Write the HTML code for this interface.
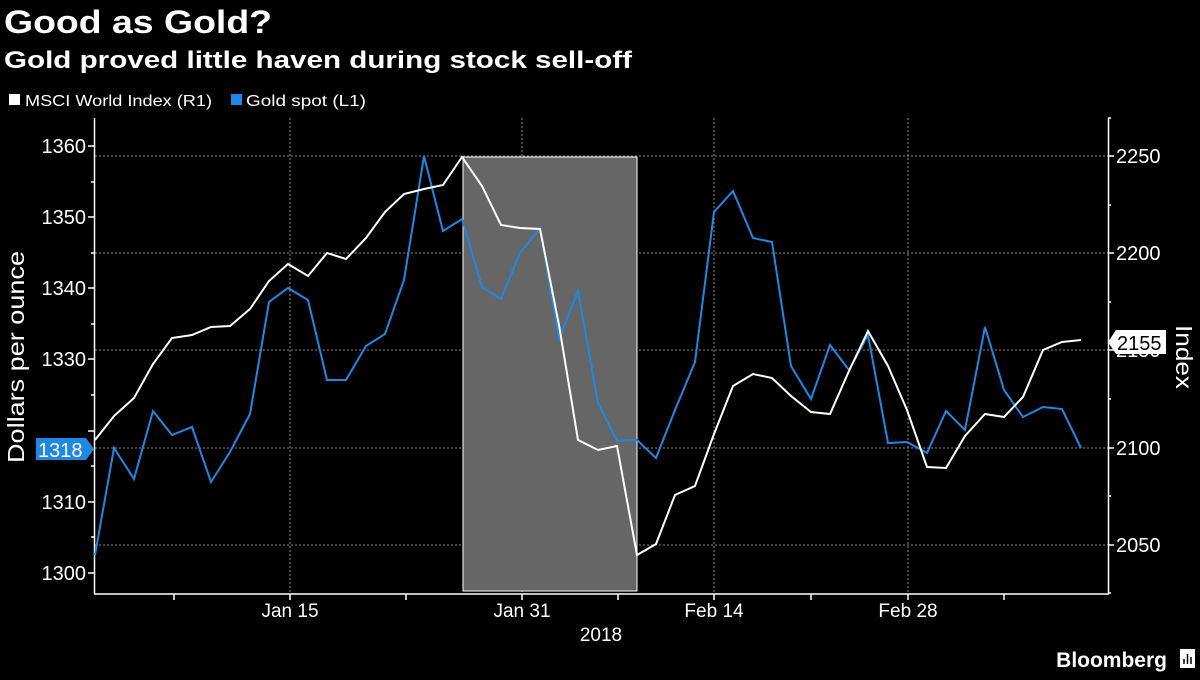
<!DOCTYPE html><html><head><style>body{margin:0;background:#000;width:1200px;height:675px;overflow:hidden}</style></head><body>
<svg width="1200" height="675" xmlns="http://www.w3.org/2000/svg" font-family="Liberation Sans, sans-serif">
<rect width="1200" height="675" fill="#000"/>
<text x="4" y="33" fill="#fff" font-size="32" font-weight="bold" textLength="268" lengthAdjust="spacingAndGlyphs">Good as Gold?</text>
<text x="4" y="68" fill="#fff" font-size="24" font-weight="bold" textLength="628" lengthAdjust="spacingAndGlyphs">Gold proved little haven during stock sell-off</text>
<rect x="9" y="94" width="11" height="11" fill="#fff"/>
<text x="25" y="106" fill="#fff" font-size="16" textLength="187" lengthAdjust="spacingAndGlyphs">MSCI World Index (R1)</text>
<rect x="231" y="94" width="11" height="11" fill="#1e88e5"/>
<text x="246" y="106" fill="#fff" font-size="16" textLength="120" lengthAdjust="spacingAndGlyphs">Gold spot (L1)</text>
<g stroke="#888" stroke-dasharray="2,2" stroke-width="1">
<line x1="95" x2="1108" y1="156" y2="156"/><line x1="95" x2="1108" y1="253" y2="253"/><line x1="95" x2="1108" y1="350" y2="350"/><line x1="95" x2="1108" y1="448" y2="448"/><line x1="95" x2="1108" y1="545" y2="545"/>
<line x1="290" x2="290" y1="118" y2="593"/><line x1="522" x2="522" y1="118" y2="593"/><line x1="714" x2="714" y1="118" y2="593"/><line x1="908" x2="908" y1="118" y2="593"/>
</g>
<rect x="463" y="157" width="174" height="434" fill="#666" stroke="#fff" stroke-width="1"/>
<g stroke="#fff" stroke-width="1.5" fill="none">
<line x1="94.5" y1="118" x2="94.5" y2="594"/><line x1="1108.5" y1="118" x2="1108.5" y2="594"/><line x1="94" y1="594" x2="1109" y2="594"/>
</g>
<g stroke="#fff" stroke-width="1.5">
<line x1="88" x2="94" y1="146" y2="146"/><line x1="88" x2="94" y1="217" y2="217"/><line x1="88" x2="94" y1="288" y2="288"/><line x1="88" x2="94" y1="359" y2="359"/><line x1="88" x2="94" y1="431" y2="431"/><line x1="88" x2="94" y1="502" y2="502"/><line x1="88" x2="94" y1="573" y2="573"/>
<line x1="91" x2="94" y1="182" y2="182"/><line x1="91" x2="94" y1="253" y2="253"/><line x1="91" x2="94" y1="324" y2="324"/><line x1="91" x2="94" y1="395" y2="395"/><line x1="91" x2="94" y1="466" y2="466"/><line x1="91" x2="94" y1="537" y2="537"/>
<line x1="1108" x2="1114" y1="156" y2="156"/><line x1="1108" x2="1114" y1="253" y2="253"/><line x1="1108" x2="1114" y1="350" y2="350"/><line x1="1108" x2="1114" y1="448" y2="448"/><line x1="1108" x2="1114" y1="545" y2="545"/>
<line x1="1108" x2="1111" y1="205" y2="205"/><line x1="1108" x2="1111" y1="302" y2="302"/><line x1="1108" x2="1111" y1="399" y2="399"/><line x1="1108" x2="1111" y1="496" y2="496"/><line x1="1108" x2="1111" y1="593" y2="593"/><line x1="1108" x2="1111" y1="118" y2="118"/>
<line x1="174" x2="174" y1="594" y2="600"/><line x1="290" x2="290" y1="594" y2="600"/><line x1="406" x2="406" y1="594" y2="600"/><line x1="522" x2="522" y1="594" y2="600"/><line x1="618" x2="618" y1="594" y2="600"/><line x1="714" x2="714" y1="594" y2="600"/><line x1="811" x2="811" y1="594" y2="600"/><line x1="908" x2="908" y1="594" y2="600"/><line x1="1004" x2="1004" y1="594" y2="600"/>
</g>
<g fill="#fff" font-size="20" text-anchor="end">
<text x="86" y="153">1360</text><text x="86" y="224">1350</text><text x="86" y="295">1340</text><text x="86" y="366">1330</text><text x="86" y="509">1310</text><text x="86" y="580">1300</text>
</g>
<g fill="#fff" font-size="20">
<text x="1116" y="163">2250</text><text x="1116" y="260">2200</text><text x="1116" y="357">2150</text><text x="1116" y="455">2100</text><text x="1116" y="552">2050</text>
</g>
<g fill="#fff" font-size="19" text-anchor="middle">
<text x="290" y="617">Jan 15</text><text x="522" y="617">Jan 31</text><text x="714" y="617">Feb 14</text><text x="908" y="617">Feb 28</text><text x="601" y="641">2018</text>
</g>
<text transform="translate(24,357) rotate(-90)" fill="#fff" font-size="23" text-anchor="middle" textLength="212" lengthAdjust="spacingAndGlyphs">Dollars per ounce</text>
<text transform="translate(1176,357) rotate(90)" fill="#fff" font-size="23" text-anchor="middle" textLength="64" lengthAdjust="spacingAndGlyphs">Index</text>
<polyline fill="none" stroke="#1e88e5" stroke-width="2" points="95,555 114,448 134,479 153,411 172,435 192,427 211,482 230,452 250,414 269,302 288,288 308,300 327,380 346,380 366,346 385,334 404,280 424,156 443,231 462,219 482,287 501,299 520,253 540,228 559,339 578,291 598,403 617,441 637,440 656,458 675,410 695,362 714,212 733,191 753,238 772,242 791,366 811,399 830,345 849,370 868,335 888,443 907,442 927,453 946,411 965,430 985,327 1004,390 1023,417 1043,407 1062,409 1081,448"/>
<polyline fill="none" stroke="#fff" stroke-width="2" points="95,440 114,416 134,398 153,364 172,338 192,335 211,327 230,326 250,309 269,281 288,264 308,276 327,253 346,259 366,238 385,212 404,194 424,189 443,185 462,157 482,186 501,225 520,228 540,229 559,325 578,440 598,450 617,446 637,555 656,544 675,495 695,486 714,434 733,386 753,374 772,378 791,396 811,412 830,414 849,371 868,331 888,366 907,410 927,467 946,468 965,436 985,414 1004,417 1023,397 1043,350 1062,342 1081,340"/>
<path d="M36,438 H86 L94,449 L86,460 H36 Z" fill="#1e88e5"/>
<text x="38" y="457" fill="#fff" font-size="20">1318</text>
<path d="M1116,330 H1166 V354 H1116 L1108,342 Z" fill="#fff"/>
<text x="1117" y="350" fill="#000" font-size="20">2155</text>
<text x="1167" y="667" fill="#fff" font-size="21" font-weight="bold" text-anchor="end">Bloomberg</text>
<rect x="1180" y="649" width="15" height="19" fill="#fff"/>
<g stroke="#000" stroke-width="1.5"><line x1="1184" y1="664" x2="1184" y2="659"/><line x1="1187.5" y1="664" x2="1187.5" y2="654"/><line x1="1191" y1="664" x2="1191" y2="657"/></g>
</svg>
</body></html>
